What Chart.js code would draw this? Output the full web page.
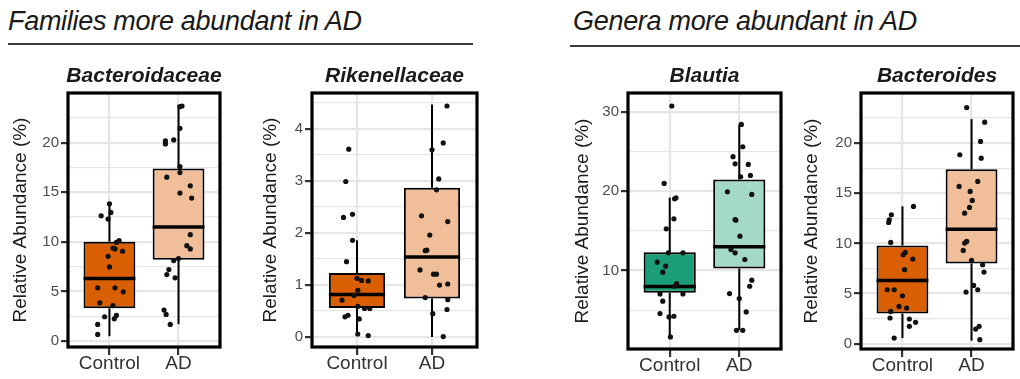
<!DOCTYPE html>
<html>
<head>
<meta charset="utf-8">
<script src="https://cdn.jsdelivr.net/npm/chart.js@4.4.1/dist/chart.umd.min.js"></script>
<style>
  body { margin: 0; width: 1020px; height: 379px; background: #fff; position: relative; overflow: hidden; font-family: "Liberation Sans", Arial, sans-serif; }
  .head { position: absolute; top: 8px; font-size: 27px; line-height: 27px; font-style: italic; color: #1a1a1a; letter-spacing: -0.3px; white-space: nowrap; }
  .rule { position: absolute; height: 2px; background: #3a3a3a; }
  canvas { position: absolute; top: 55px; }
</style>
</head>
<body>
<div class="head" style="left:8px">Families more abundant in AD</div>
<div class="rule" style="left:8px;width:465px;top:43px"></div>
<div class="head" style="left:573px">Genera more abundant in AD</div>
<div class="rule" style="left:570px;width:450px;top:45px"></div>

<canvas id="p1" width="250" height="324" style="left:0px"></canvas>
<canvas id="p2" width="250" height="324" style="left:250px"></canvas>
<canvas id="p3" width="229" height="324" style="left:562px"></canvas>
<canvas id="p4" width="229" height="324" style="left:791px"></canvas>

<script>
const groups = ["Control", "AD"];

// box stats: [lower whisker, q1, median, q3, upper whisker]
const bacteroidaceaeCtrlBox = [0.5, 3.3, 6.3, 10.0, 13.9];
const bacteroidaceaeAdBox = [1.7, 8.2, 11.5, 17.4, 23.8];
const bacteroidaceaeCtrl = [13.84, 12.63, 12.96, 12.29, 10.12, 9.95, 9.38, 9.28, 9.05, 8.54, 7.47, 5.36, 5.36, 4.96, 3.85, 3.58, 2.45, 2.58, 2.24, 1.68, 0.67];
const bacteroidaceaeCtrlJit = [0, -0.12, 0.02, -0.02, 0.14, 0.10, 0.05, 0.08, 0.19, -0.02, 0, -0.17, 0.08, 0.2, -0.14, 0.05, -0.07, 0.1, 0.07, -0.17, -0.17];
const bacteroidaceaeAd = [23.62, 23.69, 21.44, 20.17, 20.27, 19.87, 17.59, 16.98, 16.52, 15.64, 14.91, 14.41, 10.72, 9.61, 9.28, 8.31, 8.11, 7.2, 6.7, 6.37, 3.12, 2.68, 1.68];
const bacteroidaceaeAdJit = [0.02, 0.05, 0.02, -0.19, -0.07, -0.19, 0.02, 0.02, -0.17, 0.17, 0.02, 0.19, 0.17, 0.12, 0.17, 0, -0.07, -0.14, -0.17, -0.05, -0.21, -0.18, -0.12];
const bacteroidaceaeMajor = [0, 5, 10, 15, 20];
const bacteroidaceaeMinor = [2.5, 7.5, 12.5, 17.5, 22.5];

const rikenellaceaeCtrlBox = [0.02, 0.56, 0.82, 1.23, 1.86];
const rikenellaceaeAdBox = [0.0, 0.74, 1.54, 2.87, 4.47];
const rikenellaceaeCtrl = [3.61, 2.99, 2.36, 2.30, 1.86, 1.45, 1.13, 1.09, 1.08, 0.90, 0.71, 0.80, 0.59, 0.55, 0.55, 0.42, 0.39, 0.35, 0.06, 0.03];
const rikenellaceaeCtrlJit = [-0.11, -0.15, -0.06, -0.18, -0.06, -0.14, 0, 0.06, 0.15, 0.01, -0.2, -0.04, 0.01, 0.1, 0.17, -0.12, -0.16, 0.03, 0.01, 0.15];
const rikenellaceaeAd = [4.44, 3.73, 3.60, 3.04, 2.83, 2.33, 2.22, 1.96, 1.67, 1.66, 1.29, 1.21, 1.21, 1.00, 1.02, 0.76, 0.72, 0.53, 0.45, 0.01];
const rikenellaceaeAdJit = [0.2, 0.15, 0, 0.09, 0.06, -0.14, 0.21, -0.03, -0.07, -0.09, -0.16, 0.02, 0.06, 0.1, 0.21, -0.09, 0.21, 0.2, 0.01, 0.15];
const rikenellaceaeMajor = [0, 1, 2, 3, 4];
const rikenellaceaeMinor = [0.5, 1.5, 2.5, 3.5, 4.5];

const blautiaCtrlBox = [1.5, 7.2, 8.0, 12.3, 19.2];
const blautiaAdBox = [2.5, 10.25, 13.0, 21.5, 28.4];
const blautiaCtrl = [30.76, 20.99, 19.05, 19.18, 16.53, 15.26, 12.23, 12.23, 11.05, 10.55, 9.79, 8.36, 8.02, 7.05, 7.05, 6.13, 4.57, 4.23, 4.15, 1.62];
const blautiaCtrlJit = [0.03, -0.08, 0.07, 0.09, 0.06, -0.05, -0.02, 0.19, -0.18, -0.06, -0.1, 0.1, 0.07, -0.14, 0.19, -0.1, -0.14, 0.06, -0.01, 0.01];
const blautiaAd = [28.44, 25.62, 24.36, 23.47, 23.39, 21.83, 22.0, 19.94, 19.6, 16.44, 16.36, 14.34, 12.65, 12.23, 11.39, 8.78, 8.02, 7.09, 6.46, 4.78, 2.46, 2.46];
const blautiaAdJit = [0.03, 0.05, -0.09, -0.06, 0.13, 0.02, 0.16, -0.17, 0.18, -0.06, -0.05, 0.01, -0.12, -0.06, 0.08, 0.18, 0.15, -0.14, 0, 0.1, -0.04, 0.05];
const blautiaMajor = [10, 20, 30];
const blautiaMinor = [5, 15, 25];

const bacteroidesCtrlBox = [0.56, 3.0, 6.3, 9.8, 13.7];
const bacteroidesAdBox = [0.3, 8.0, 11.4, 17.4, 22.4];
const bacteroidesCtrl = [13.69, 12.86, 12.36, 12.09, 10.1, 9.1, 8.87, 8.44, 7.38, 5.38, 5.38, 4.78, 3.72, 3.55, 3.22, 2.56, 2.46, 2.13, 1.73, 0.56];
const bacteroidesCtrlJit = [0.16, -0.16, -0.19, -0.2, -0.17, 0.04, 0.01, 0.15, 0.03, -0.22, -0.12, 0, -0.05, 0.06, -0.17, -0.18, 0.1, 0.19, 0.1, -0.12];
const bacteroidesAd = [23.55, 22.09, 20.17, 18.84, 18.5, 16.18, 15.68, 15.18, 14.29, 13.59, 13.02, 10.2, 10.03, 9.3, 8.31, 7.87, 7.14, 5.81, 5.38, 5.15, 1.73, 1.46, 0.4];
const bacteroidesAdJit = [-0.07, 0.19, 0.13, -0.17, 0.14, 0.09, -0.18, -0.02, 0.01, -0.03, -0.1, -0.07, -0.1, -0.12, 0, 0.16, 0.18, 0.03, 0.09, -0.08, 0.11, 0.06, 0.12];
const bacteroidesMajor = [0, 5, 10, 15, 20];
const bacteroidesMinor = [2.5, 7.5, 12.5, 17.5, 22.5];

const orangeFills = ["#d95f02", "#f0bf9a"];
const greenFills = ["#1b9e77", "#a4d8c9"];

Chart.defaults.font.family = '"Liberation Sans", Arial, sans-serif';

const panelFrame = {
  id: "panelFrame",
  afterDatasetsDraw(chart, args, opts) {
    const { ctx, chartArea: a } = chart;
    ctx.save();
    ctx.strokeStyle = "#000";
    ctx.lineWidth = 3.2;
    ctx.strokeRect(a.left, a.top, a.right - a.left, a.bottom - a.top);
    ctx.font = 'italic bold 21px "Liberation Sans", Arial, sans-serif';
    ctx.fillStyle = "#1a1a1a";
    ctx.textAlign = "center";
    ctx.textBaseline = "alphabetic";
    ctx.fillText(opts.text, (a.left + a.right) / 2, a.top - 11);
    ctx.restore();
  },
};

function segment(x0, y0, x1, y1, width) {
  return {
    type: "line",
    data: [{ x: x0, y: y0 }, { x: x1, y: y1 }],
    borderColor: "#000",
    borderWidth: width,
    pointRadius: 0,
    fill: false,
    order: width > 2.5 ? 1 : 3,
  };
}

function makePanel(p) {
  const boxes = [p.ctrlBox, p.adBox];
  const points = p.ctrl.map((v, i) => ({ x: 0 + p.ctrlJit[i], y: v }))
    .concat(p.ad.map((v, i) => ({ x: 1 + p.adJit[i], y: v })));
  const datasets = [
    {
      type: "scatter",
      data: points,
      backgroundColor: "#111",
      pointRadius: 2.6,
      pointBorderWidth: 0,
      order: 0,
    },
    {
      type: "bar",
      data: boxes.map((b, g) => ({ x: g, y: [b[1], b[3]] })),
      backgroundColor: p.fills,
      borderColor: "#000",
      borderWidth: 2,
      borderSkipped: false,
      barPercentage: 0.75,
      categoryPercentage: 1,
      order: 2,
    },
  ];
  boxes.forEach((b, g) => {
    datasets.push(segment(g - 0.375, b[2], g + 0.375, b[2], 3.5));
    datasets.push(segment(g, b[3], g, b[4], 2));
    datasets.push(segment(g, b[0], g, b[1], 2));
  });
  const ticks = p.major.concat(p.minor).sort((a, b) => a - b);
  const isMajor = (c) => c.tick && p.major.includes(c.tick.value);

  return {
    type: "scatter",
    data: { datasets },
    plugins: [panelFrame],
    options: {
      responsive: false,
      animation: false,
      events: [],
      layout: { padding: { top: 38, right: p.rightPad, bottom: 0, left: 0 } },
      plugins: { legend: { display: false }, tooltip: { enabled: false }, panelFrame: { text: p.title } },
      scales: {
        x: {
          type: "linear",
          min: -0.6,
          max: 1.6,
          offset: false,
          afterBuildTicks: (s) => { s.ticks = [{ value: 0 }, { value: 1 }]; },
          afterFit: (s) => { s.height = p.xAxisHeight; },
          ticks: { callback: (v, i) => groups[i], font: { size: 19, lineHeight: 1 }, color: "#333", padding: -1, autoSkip: false, maxRotation: 0 },
          grid: { color: "#e6e6e6", lineWidth: 2.2, tickLength: 8, tickColor: "#333", tickWidth: 2.2, offset: false },
          border: { display: false },
        },
        y: {
          type: "linear",
          min: p.yMin,
          max: p.yMax,
          afterBuildTicks: (s) => { s.ticks = ticks.map((v) => ({ value: v })); },
          afterFit: (s) => { s.width = p.yAxisWidth; },
          ticks: { callback: (v) => (p.major.includes(v) ? v : ""), font: { size: 15 }, color: "#4d4d4d", padding: 2, autoSkip: false },
          grid: {
            color: "#e6e6e6",
            lineWidth: (c) => (isMajor(c) ? 2.2 : 1.2),
            tickLength: 7,
            tickColor: (c) => (isMajor(c) ? "#333" : "rgba(0,0,0,0)"),
            tickWidth: 2.2,
          },
          border: { display: false },
          title: { display: true, text: "Relative Abundance (%)", font: { size: 19 }, color: "#1a1a1a", padding: { top: 9, bottom: 0 } },
        },
      },
    },
  };
}

const configBacteroidaceae = makePanel({
  title: "Bacteroidaceae", fills: orangeFills, yMin: -0.6, yMax: 25,
  major: bacteroidaceaeMajor, minor: bacteroidaceaeMinor,
  ctrlBox: bacteroidaceaeCtrlBox, adBox: bacteroidaceaeAdBox,
  ctrl: bacteroidaceaeCtrl, ctrlJit: bacteroidaceaeCtrlJit, ad: bacteroidaceaeAd, adJit: bacteroidaceaeAdJit,
  yAxisWidth: 68, rightPad: 30, xAxisHeight: 32,
});

const configRikenellaceae = makePanel({
  title: "Rikenellaceae", fills: orangeFills, yMin: -0.19, yMax: 4.69,
  major: rikenellaceaeMajor, minor: rikenellaceaeMinor,
  ctrlBox: rikenellaceaeCtrlBox, adBox: rikenellaceaeAdBox,
  ctrl: rikenellaceaeCtrl, ctrlJit: rikenellaceaeCtrlJit, ad: rikenellaceaeAd, adJit: rikenellaceaeAdJit,
  yAxisWidth: 62, rightPad: 23, xAxisHeight: 32,
});

const configBlautia = makePanel({
  title: "Blautia", fills: greenFills, yMin: 0.1, yMax: 32.4,
  major: blautiaMajor, minor: blautiaMinor,
  ctrlBox: blautiaCtrlBox, adBox: blautiaAdBox,
  ctrl: blautiaCtrl, ctrlJit: blautiaCtrlJit, ad: blautiaAd, adJit: blautiaAdJit,
  yAxisWidth: 66, rightPad: 10, xAxisHeight: 30,
});

const configBacteroides = makePanel({
  title: "Bacteroides", fills: orangeFills, yMin: -0.53, yMax: 25,
  major: bacteroidesMajor, minor: bacteroidesMinor,
  ctrlBox: bacteroidesCtrlBox, adBox: bacteroidesAdBox,
  ctrl: bacteroidesCtrl, ctrlJit: bacteroidesCtrlJit, ad: bacteroidesAd, adJit: bacteroidesAdJit,
  yAxisWidth: 70, rightPad: 7, xAxisHeight: 30,
});

new Chart(document.getElementById("p1"), configBacteroidaceae);
new Chart(document.getElementById("p2"), configRikenellaceae);
new Chart(document.getElementById("p3"), configBlautia);
new Chart(document.getElementById("p4"), configBacteroides);
</script>
</body>
</html>
